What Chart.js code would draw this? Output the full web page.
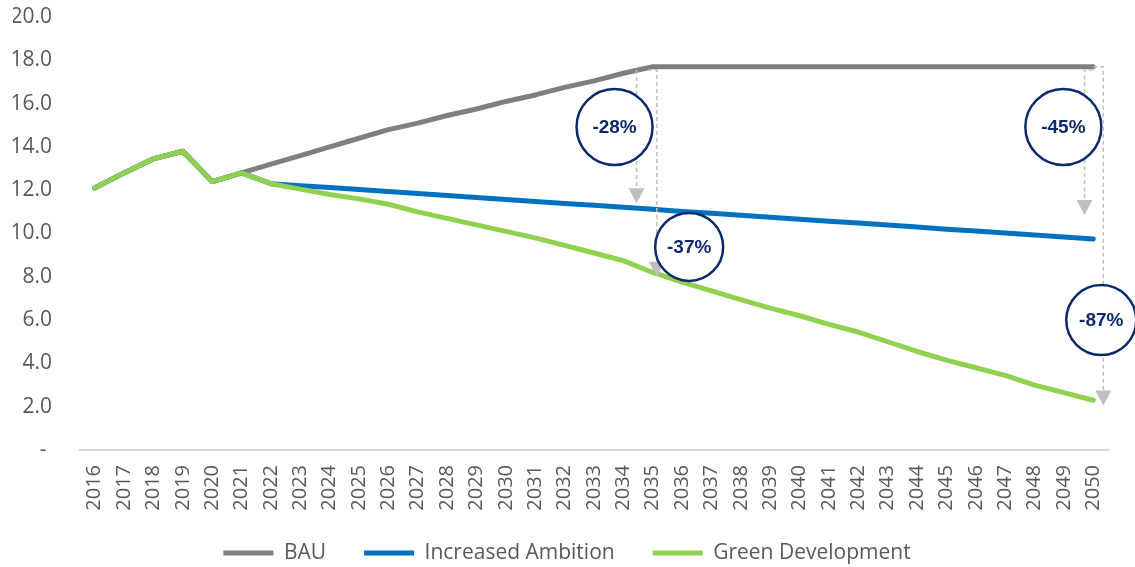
<!DOCTYPE html>
<html>
<head>
<meta charset="utf-8">
<script src="https://cdn.jsdelivr.net/npm/chart.js@4.4.1/dist/chart.umd.min.js"></script>
<style>
  html, body { margin: 0; padding: 0; background: #ffffff; }
  #wrap { width: 1135px; height: 567px; }
</style>
</head>
<body>
<div id="wrap"><canvas id="c" width="1135" height="567"></canvas></div>
<script>
// Years on the horizontal axis
const years = ['2016','2017','2018','2019','2020','2021','2022','2023','2024','2025',
  '2026','2027','2028','2029','2030','2031','2032','2033','2034','2035',
  '2036','2037','2038','2039','2040','2041','2042','2043','2044','2045',
  '2046','2047','2048','2049','2050'];

// Scenario series
const bau = [12.1, 12.8, 13.45, 13.8, 12.4, 12.8, 13.2, 13.6, 14.0, 14.4,
  14.8, 15.1, 15.45, 15.75, 16.1, 16.4, 16.75, 17.05, 17.4, 17.7,
  17.7, 17.7, 17.7, 17.7, 17.7, 17.7, 17.7, 17.7, 17.7, 17.7,
  17.7, 17.7, 17.7, 17.7, 17.7];
const increasedAmbition = [12.1, 12.8, 13.45, 13.8, 12.4, 12.8, 12.3, 12.21, 12.12, 12.03,
  11.94, 11.85, 11.75, 11.66, 11.57, 11.48, 11.39, 11.3, 11.21, 11.12,
  11.02, 10.93, 10.84, 10.75, 10.66, 10.57, 10.48, 10.39, 10.3, 10.2,
  10.11, 10.02, 9.93, 9.84, 9.75];
const greenDevelopment = [12.1, 12.8, 13.45, 13.8, 12.4, 12.8, 12.3, 12.05, 11.8, 11.6,
  11.35, 11.0, 10.7, 10.4, 10.1, 9.8, 9.45, 9.1, 8.75, 8.2,
  7.75, 7.35, 6.95, 6.55, 6.2, 5.8, 5.45, 5.0, 4.55, 4.15,
  3.8, 3.45, 3.0, 2.65, 2.3];

// Vertical axis range
const yMin = 0;
const yMax = 20;
const yStep = 2;

// Reduction call-outs, placed in data coordinates (category index, value)
const callouts = [
  { text: '-28%', path: [[18.45, 17.55], [18.45, 11.4]], center: [17.7, 14.92], r: 38 },
  { text: '-37%', path: [[18.83, 17.55], [19.14, 17.55], [19.14, 8.0]], center: [20.24, 9.38], r: 34 },
  { text: '-45%', path: [[34.0, 17.55], [33.7, 17.55], [33.7, 10.85]], center: [32.98, 14.92], r: 38 },
  { text: '-87%', path: [[34.0, 17.7], [34.34, 17.7], [34.34, 2.05]], center: [34.27, 6.0], r: 35 }
];

const textGrey = '#595959';

const calloutPlugin = {
  id: 'callouts',
  afterDatasetsDraw(chart) {
    const { ctx, scales: { x, y } } = chart;
    ctx.save();
    callouts.forEach(c => {
      const pts = c.path.map(p => [x.getPixelForValue(p[0]), y.getPixelForValue(p[1])]);
      const tip = pts[pts.length - 1];
      const headH = 15, headW = 8;
      // dashed leader
      ctx.setLineDash([4, 3]);
      ctx.strokeStyle = '#c0c0c0';
      ctx.lineWidth = 1.5;
      ctx.beginPath();
      ctx.moveTo(pts[0][0], pts[0][1]);
      for (let i = 1; i < pts.length - 1; i++) ctx.lineTo(pts[i][0], pts[i][1]);
      ctx.lineTo(tip[0], tip[1] - headH);
      ctx.stroke();
      ctx.setLineDash([]);
      // arrow head
      ctx.fillStyle = '#bfbfbf';
      ctx.beginPath();
      ctx.moveTo(tip[0] - headW, tip[1] - headH);
      ctx.lineTo(tip[0] + headW, tip[1] - headH);
      ctx.lineTo(tip[0], tip[1]);
      ctx.closePath();
      ctx.fill();
      // circle badge
      const cx = x.getPixelForValue(c.center[0]);
      const cy = y.getPixelForValue(c.center[1]);
      ctx.beginPath();
      ctx.arc(cx, cy, c.r, 0, Math.PI * 2);
      ctx.fillStyle = '#ffffff';
      ctx.fill();
      ctx.lineWidth = 2.5;
      ctx.strokeStyle = '#0c2a6b';
      ctx.stroke();
      ctx.fillStyle = '#0c2a6b';
      ctx.font = 'bold 19px "Liberation Sans", Arial, sans-serif';
      ctx.textAlign = 'center';
      ctx.textBaseline = 'middle';
      ctx.fillText(c.text, cx, cy + 1);
    });
    ctx.restore();
  }
};

const line = (label, data, color, order) => ({
  label, data, order,
  borderColor: color,
  backgroundColor: color,
  borderWidth: 5,
  borderCapStyle: 'round',
  borderJoinStyle: 'round',
  pointRadius: 0,
  pointHoverRadius: 0,
  tension: 0,
  fill: false
});

// Legend entries (except the last) get an em space of separation before the next swatch
const legendLabels = (chart) => {
  const items = Chart.defaults.plugins.legend.labels.generateLabels(chart);
  items.sort((a, b) => a.datasetIndex - b.datasetIndex);
  items.forEach((it, i) => { if (i < items.length - 1) it.text = it.text + '\u2003'; });
  return items;
};

new Chart(document.getElementById('c'), {
  type: 'line',
  data: {
    labels: years,
    datasets: [
      line('BAU', bau, '#7f7f7f', 3),
      line('Increased Ambition', increasedAmbition, '#0070c0', 2),
      line('Green Development', greenDevelopment, '#92d050', 1)
    ]
  },
  options: {
    responsive: false,
    animation: false,
    layout: { padding: { top: 17, right: 14, left: 13, bottom: -6.5 } },
    plugins: {
      tooltip: { enabled: false },
      legend: {
        position: 'bottom',
        labels: {
          usePointStyle: true,
          pointStyle: 'line',
          pointStyleWidth: 50,
          font: { family: 'Open Sans', size: 21 },
          color: textGrey,
          padding: 17,
          generateLabels: legendLabels
        }
      }
    },
    scales: {
      x: {
        offset: true,
        grid: { display: false, drawTicks: false },
        border: { display: true, color: '#d9d9d9', width: 2 },
        ticks: { minRotation: 90, maxRotation: 90, autoSkip: false,
                 font: { family: 'Open Sans', size: 20 }, color: textGrey, padding: 15 },
        afterFit(s) { s.height = 75.5; }
      },
      y: {
        min: yMin,
        max: yMax,
        grid: { display: false, drawTicks: true, tickLength: 28 },
        border: { display: false },
        ticks: {
          stepSize: yStep,
          font: { family: 'Open Sans', size: 21 },
          color: textGrey,
          padding: 0,
          callback: v => (v === 0 ? '- ' : v.toFixed(1))
        },
        afterFit(s) { s.width = 67; }
      },
      yRight: {
        type: 'linear',
        position: 'right',
        grid: { display: false, drawTicks: false },
        border: { display: false },
        ticks: { display: false },
        afterFit(s) { s.width = 13; }
      }
    }
  },
  plugins: [calloutPlugin]
});
</script>
</body>
</html>
